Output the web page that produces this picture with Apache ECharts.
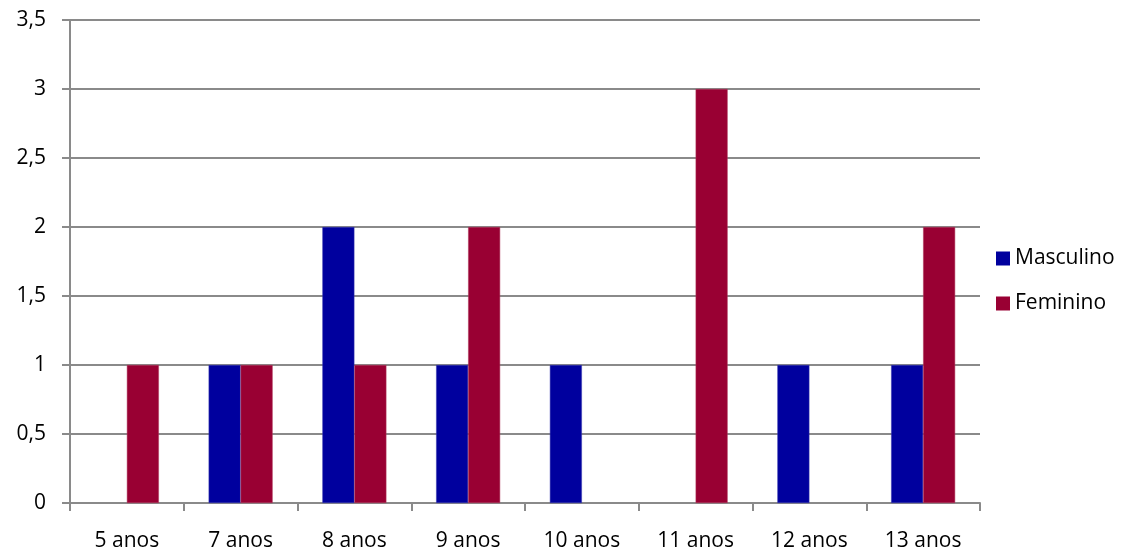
<!DOCTYPE html>
<html>
<head>
<meta charset="utf-8">
<script src="https://cdn.jsdelivr.net/npm/echarts@6/dist/echarts.min.js"></script>
<style>
  html, body { margin: 0; padding: 0; background: #fff; }
  #chart { width: 1134px; height: 556px; }
</style>
</head>
<body>
<div id="chart"></div>
<script>
// data
var categories = ['5 anos', '7 anos', '8 anos', '9 anos', '10 anos', '11 anos', '12 anos', '13 anos'];
var masculino = [null, 1, 2, 1, 1, null, 1, 1];
var feminino = [1, 1, 1, 2, null, 3, null, 2];
var yTicks = [0, 0.5, 1, 1.5, 2, 2.5, 3, 3.5];

var myChart = echarts.init(document.getElementById('chart'));
var lineColor = '#8a8a8a';
var font = 'Open Sans, Noto Sans, sans-serif';

var option = {
    animation: false,
    textStyle: { fontFamily: font },
    grid: {
        left: 70,
        right: 154,
        top: 20,
        bottom: 53
    },
    legend: {
        orient: 'vertical',
        left: 991,
        top: 243,
        itemWidth: 14,
        itemHeight: 14,
        itemGap: 24,
        icon: 'rect',
        itemStyle: { borderWidth: 0 },
        textStyle: { fontSize: 21, color: '#000', fontFamily: font },
        data: ['Masculino', 'Feminino']
    },
    xAxis: {
        type: 'category',
        data: categories,
        axisLine: { lineStyle: { color: lineColor, width: 2 } },
        axisTick: { show: true, length: 8, alignWithLabel: false, lineStyle: { color: lineColor, width: 2 } },
        axisLabel: { color: '#000', fontSize: 21, margin: 28, fontFamily: font, interval: 0 }
    },
    yAxis: {
        type: 'value',
        min: yTicks[0],
        max: yTicks[yTicks.length - 1],
        interval: 0.5,
        axisLine: { show: true, lineStyle: { color: lineColor, width: 2 } },
        axisTick: { show: true, length: 8, lineStyle: { color: lineColor, width: 2 } },
        splitLine: { show: true, lineStyle: { color: lineColor, width: 2 } },
        axisLabel: {
            color: '#000',
            fontSize: 21,
            margin: 24,
            fontFamily: font,
            formatter: function (v) { return String(v).replace('.', ','); }
        }
    },
    series: [
        {
            name: 'Masculino',
            type: 'bar',
            data: masculino,
            barWidth: 32,
            barGap: '0%',
            itemStyle: { color: '#00009e', borderColor: '#3a3ab0', borderWidth: 0.5 }
        },
        {
            name: 'Feminino',
            type: 'bar',
            data: feminino,
            barWidth: 32,
            itemStyle: { color: '#990033', borderColor: '#b03a5e', borderWidth: 0.5 }
        }
    ]
};

myChart.setOption(option);
</script>
</body>
</html>
